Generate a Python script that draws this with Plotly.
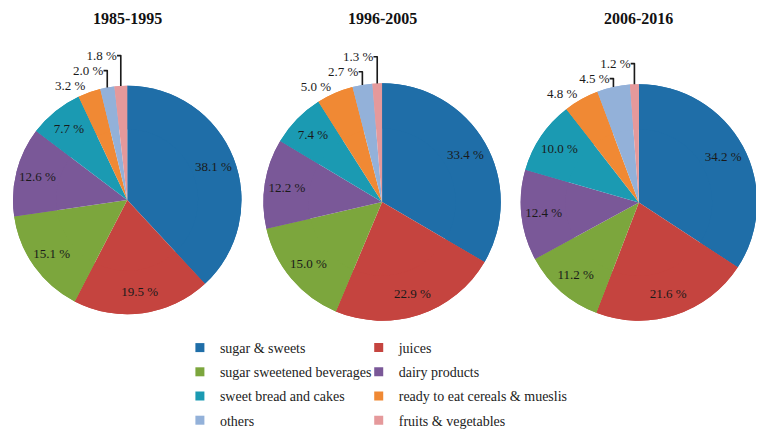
import plotly.graph_objects as go

categories = ["sugar & sweets", "juices", "sugar sweetened beverages", "dairy products",
              "sweet bread and cakes", "ready to eat cereals & mueslis", "others", "fruits & vegetables"]
periods = ["1985-1995", "1996-2005", "2006-2016"]
values_1985_1995 = [38.1, 19.5, 15.1, 12.6, 7.7, 3.2, 2.0, 1.8]
values_1996_2005 = [33.4, 22.9, 15.0, 12.2, 7.4, 5.0, 2.7, 1.3]
values_2006_2016 = [34.2, 21.6, 11.2, 12.4, 10.0, 4.8, 4.5, 1.2]
colors = ["#1F6EA8", "#C5443F", "#7CA63D", "#7A5898", "#1B9AB2", "#F08934", "#93B1D9", "#E5999B"]

W, H = 764, 434
OFF = 8  # page body margin of the browser
FONT = "Liberation Serif, serif"

# pie boxes in window pixels (left, right, top, bottom)
boxes = [(8, 238, 84, 316), (260, 499, 83, 321), (519, 757, 83, 322)]


def px_x(x):
    return min(max((x - OFF) / W, 0), 1)


def px_y(y):
    return min(max(1 - (y - OFF) / H, 0), 1)


fig = go.Figure()
for vals, box in zip([values_1985_1995, values_1996_2005, values_2006_2016], boxes):
    l, r, t, b = box
    dom = dict(x=[px_x(l), px_x(r)], y=[px_y(b), px_y(t)])
    # full pie underneath (fills the centre)
    fig.add_trace(go.Pie(
        labels=categories, values=vals, sort=False, direction="clockwise", rotation=0,
        marker=dict(colors=colors, line=dict(width=0)), textinfo="none",
        showlegend=False, hoverinfo="skip", domain=dom,
    ))
    # ring on top carrying the labels
    fig.add_trace(go.Pie(
        labels=categories, values=vals, sort=False, direction="clockwise", rotation=0, hole=0.62,
        marker=dict(colors=colors, line=dict(width=0)),
        text=[f"{v:.1f} %" for v in vals], textinfo="text",
        textposition=["inside" if v >= 6 else "outside" for v in vals],
        insidetextorientation="horizontal",
        textfont=dict(family=FONT, size=13, color="#1a1a1a"),
        showlegend=False, hoverinfo="label+value", domain=dom,
    ))

# legend entries (two columns)
for i, (cat, col) in enumerate(zip(categories, colors)):
    fig.add_trace(go.Scatter(
        x=[None], y=[None], mode="markers", name=cat,
        marker=dict(symbol="square", size=9, color=col),
        legend="legend" if i % 2 == 0 else "legend2", legendgroup=cat,
    ))

for p, box in zip(periods, boxes):
    l, r, t, b = box
    fig.add_annotation(text=f"<b>{p}</b>", x=px_x((l + r) / 2), y=1, xref="paper", yref="paper",
                       showarrow=False, font=dict(family=FONT, size=16, color="#111111"),
                       xanchor="center", yanchor="top")

leg_common = dict(orientation="v", yanchor="top", xanchor="left", tracegroupgap=3,
                  font=dict(family=FONT, size=14, color="#222222"), bgcolor="rgba(0,0,0,0)",
                  itemclick=False, itemdoubleclick=False)
fig.update_layout(
    width=W, height=H, margin=dict(l=0, r=0, t=0, b=0),
    paper_bgcolor="white", plot_bgcolor="white",
    uniformtext=dict(minsize=13, mode="show"),
    xaxis=dict(visible=False), yaxis=dict(visible=False),
    legend=dict(x=px_x(176), y=px_y(332), **leg_common),
    legend2=dict(x=px_x(356), y=px_y(332), **leg_common),
)
fig.write_html("out.html")
